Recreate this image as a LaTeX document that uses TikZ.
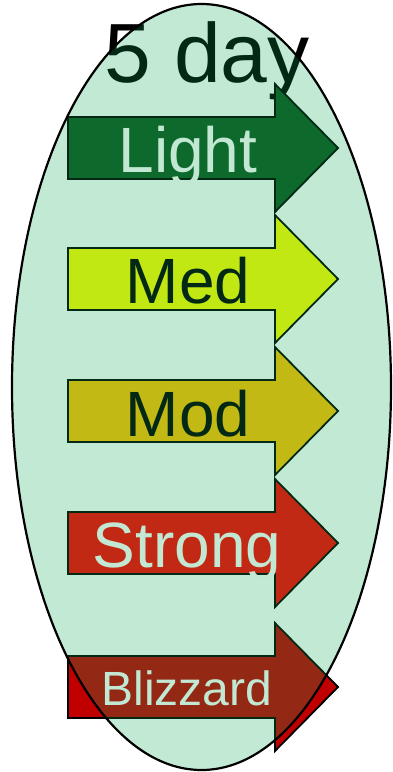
\documentclass[tikz,border=0pt]{standalone}
\usepackage{fontspec}
\setmainfont{Liberation Sans}
\definecolor{lightgreen}{RGB}{15,85,32}
\definecolor{medyellow}{RGB}{255,254,0}
\definecolor{modgold}{RGB}{255,192,0}
\definecolor{strongred}{RGB}{255,0,0}
\definecolor{blizzred}{RGB}{192,0,0}
\definecolor{ovalgreen}{RGB}{13,167,80}
\newcommand{\stormarrow}[2]{%
  \draw[arrowline, fill=#2] (68,#1-31) -- (275,#1-31) -- (275,#1-64) -- (338,#1)
    -- (275,#1+64) -- (275,#1+31) -- (68,#1+31) -- cycle;}
\begin{document}
\begin{tikzpicture}[x=1pt,y=-1pt,
  arrowline/.style={draw=black, line width=1.8pt, line join=miter},
  lbl/.style={anchor=base, inner sep=0pt, font=\fontsize{64}{64}\selectfont},
  oval/.style={draw=black, line width=2.2pt, fill=ovalgreen, fill opacity=0.25}]
\useasboundingbox (0,0) rectangle (392,772);
\node[lbl, font=\fontsize{84}{84}\selectfont, text=black] (title) at (207,82) {5 day};
\stormarrow{148}{lightgreen}
\stormarrow{279}{medyellow}
\stormarrow{411}{modgold}
\stormarrow{543}{strongred}
\stormarrow{687}{blizzred}
\node[lbl, text=white] (light) at (188,172) {Light};
\node[lbl, text=black] (med) at (188,303) {Med};
\node[lbl, text=black] (mod) at (188,436) {Mod};
\node[lbl, text=white] (strong) at (187,567) {Strong};
\node[lbl, font=\fontsize{48}{48}\selectfont, text=white] (blizzard) at (187,705) {Blizzard};
\draw[oval] (201.5,387) ellipse [x radius=189.5, y radius=383];
\end{tikzpicture}
\end{document}
